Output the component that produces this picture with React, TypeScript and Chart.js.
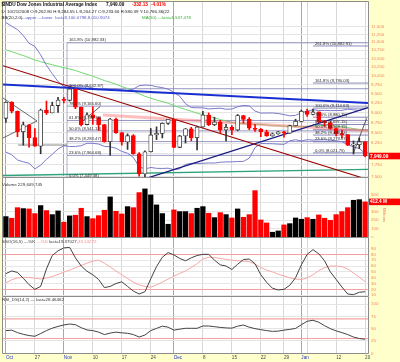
import React, { useEffect, useRef } from "react";
import { Chart, registerables } from "chart.js";

Chart.register(...registerables);

// ---------------- data ----------------
const dates = [
  "2008-10-20","2008-10-21","2008-10-22","2008-10-23","2008-10-24",
  "2008-10-27","2008-10-28","2008-10-29","2008-10-30","2008-10-31",
  "2008-11-03","2008-11-04","2008-11-05","2008-11-06","2008-11-07",
  "2008-11-10","2008-11-11","2008-11-12","2008-11-13","2008-11-14",
  "2008-11-17","2008-11-18","2008-11-19","2008-11-20","2008-11-21",
  "2008-11-24","2008-11-25","2008-11-26","2008-11-28",
  "2008-12-01","2008-12-02","2008-12-03","2008-12-04","2008-12-05",
  "2008-12-08","2008-12-09","2008-12-10","2008-12-11","2008-12-12",
  "2008-12-15","2008-12-16","2008-12-17","2008-12-18","2008-12-19",
  "2008-12-22","2008-12-23","2008-12-24","2008-12-26",
  "2008-12-29","2008-12-30","2008-12-31","2009-01-02",
  "2009-01-05","2009-01-06","2009-01-07","2009-01-08","2009-01-09",
  "2009-01-12","2009-01-13","2009-01-14","2009-01-15","2009-01-16",
  "2009-01-20",
];

const opens = [8852,9265,9034,8519,8691,8379,8176,9065,8991,9181,
  9325,9320,9625,9139,8696,8944,8871,8694,8283,8835,
  8497,8274,8425,7997,7552,8046,8443,8479,8727,8829,
  8149,8419,8592,8376,8635,8934,8691,8761,8565,8630,
  8565,8924,8824,8605,8579,8520,8419,8468,8516,8484,
  8668,8776,9035,8953,9015,8770,8742,8599,8474,8449,
  8200,8212,8279];
const highs = [9280,9285,9040,8760,8700,8600,9090,9300,9270,9400,
  9400,9654,9630,9140,8990,9150,8880,8700,8850,8860,
  8500,8470,8450,8030,8070,8600,8640,8740,8830,8830,
  8430,8600,8630,8660,9030,8990,8880,8800,8700,8670,
  8950,8930,8870,8700,8600,8560,8490,8530,8530,8680,
  8830,9065,9090,9088,9015,8800,8770,8610,8560,8450,
  8300,8370,8290];
const lows = [8750,8990,8400,8200,8150,8170,8000,8950,8990,9000,
  9250,9300,9100,8660,8690,8700,8550,8270,7965,8480,
  8200,8100,7990,7507,7449,8040,8330,8370,8700,8140,
  8140,8250,8300,8090,8630,8670,8670,8500,8300,8450,
  8540,8730,8570,8530,8400,8410,8410,8460,8390,8480,
  8660,8760,8900,8940,8740,8650,8580,8420,8370,8190,
  7995,8120,7930];
const closes = [9265,9034,8519,8691,8379,8176,9065,8991,9181,9325,
  9320,9625,9139,8696,8944,8871,8694,8283,8835,8497,
  8274,8425,7997,7552,8046,8443,8479,8727,8829,8149,
  8419,8592,8376,8635,8934,8691,8761,8565,8630,8565,
  8924,8824,8605,8579,8520,8419,8468,8516,8484,8668,
  8776,9035,8953,9015,8770,8742,8599,8474,8449,8200,
  8212,8281,7949.09];
// volume in millions
const volumes = [241,222,345,334,330,276,369,311,264,307,
  176,249,257,338,241,217,252,315,470,303,
  272,357,345,520,563,493,377,276,152,319,
  299,299,276,338,357,280,229,287,264,225,
  330,233,264,543,202,167,59,74,144,159,
  225,210,229,210,260,222,198,264,299,345,
  431,438,412.4];
const bbUpper = [11636,11515,11404,11211,10967,10872,10610,10300,10055,9831,
  9691,9728,9714,9710,9701,9651,9606,9631,9624,9627,
  9599,9581,9622,9717,9733,9726,9687,9664,9622,9535,
  9430,9229,9128,9123,9121,9094,9103,9113,9085,9090,
  9149,9185,9173,9037,8986,8987,8989,8976,8947,8915,
  8927,8999,9028,9075,9052,9055,9049,9052,9055,9087,
  9071,9056,9100.08];
const bbLower = [8040,7979,7860,7819,7787,7664,7746,7872,7987,8111,
  8187,8168,8170,8186,8245,8243,8226,8171,8164,8127,
  8055,8013,7918,7709,7661,7694,7675,7672,7678,7647,
  7662,7761,7784,7783,7785,7794,7791,7809,7817,7818,
  7825,7829,7901,8141,8238,8235,8233,8224,8219,8303,
  8327,8299,8328,8319,8324,8327,8317,8304,8283,8215,
  8159,8120,8010.91];
const ma50 = [10764,10709,10646,10590,10525,10455,10407,10360,10315,10273,
  10227,10192,10146,10090,10035,9981,9925,9860,9813,9758,
  9693,9637,9572,9494,9427,9377,9326,9288,9244,9179,
  9127,9082,9033,8985,8941,8908,8866,8821,8784,8748,
  8728,8715,8702,8702,8704,8684,8667,8666,8656,8653,
  8643,8643,8651,8658,8666,8677,8668,8657,8643,8620,
  8598,8571,8547.48];
const stochK = [47,51.5,49,39,28,20,25,55,78,86,
  91,92,74,60,51,45,37,23,25,30,
  33,25,17,12,16,38,59,75,83,79,
  73,69,74,78,80,80,70,62,60,54,
  63,71,72,64,45,32,22,19,20,27,
  40,62,80,88,81,69,50,37,24,12,
  11,15,16];
const stochD = [31,36.5,39.5,40.6,40.6,39,37.8,39.5,42,45.5,
  49.5,53,57,61,65,68.5,70,65,58.5,51.5,
  45,38.5,32.5,27.5,25,23.8,27.5,32.5,37.5,42.5,
  47.4,51.5,57.5,64,72,75,74.5,73,71.5,70,
  69,68.3,67.5,63,57.5,53,50,46,43,40,
  37.5,37,39.5,45,52,57,60,60,59,55,
  48,41,33.14];
const rsi = [46,47,42,38.5,36,34.5,40,46,51,54.5,
  57.5,59.4,58,52,47.3,46,43,38,41,43,
  41.5,40.6,38,33,37,46,50.5,55,53,47,
  49,50.7,50.7,50.7,55.4,55.4,54,52.5,51.5,51,
  55,57.4,53,50,48,46,44.5,45,47,48.5,
  50.5,58,65,67,63,56,50,45.5,42,38,
  33,30,28.46];

// axis ticks
const xTickIdx = [0,5,10,15,20,25,29,34,39,44,48,51,52,57,62];
const xTickText = ["Oct","27","Nov","10","17","24","Dec","8","15","22","29","Jan","","12","20"];
const monthIdx = [0,10,29,51];
const priceTicks = [7500,7750,8000,8250,8500,8750,9000,9250,9500,9750,10000,10250,10500,10750,11000,11250,11500];
const volTicks = [0,100,200,300,400,500];
const ssoTicks = [10,20,30,40,50,60,70,80,90];
const rsiTicks = [0,25,50,75,100];

// fibonacci retracements (level %, price)
const fibAPct = [0,23.6,38.2,50,61.8,78.6,100,161.8];
const fibALevels = [7449.38,7964.68,8283.47,8541.13,8798.78,9165.60,9632.87,10982.33];
const fibAStart = 10.55;
const fibBPct = [0,23.6,38.2,50,61.8,78.6,100,161.8,261.8];
const fibBLevels = [8021.75,8279.67,8439.23,8568.19,8697.15,8880.75,9114.63,9790.03,10882.91];
const fibBStart = 53;

// drawn trendlines: [index, price] endpoints
const blueTrend = [[-0.5,9752],[62.5,9248]];
const redTrend = [[-0.5,10285],[62.5,7432]];
const navyTrend = [[24,7449],[62.5,9128]];
const pinkTrend = [[16.76,8938],[62.5,8544]];
const greenTrend = [[-0.5,7520],[62.5,7650]];
const triUpper = [[-0.5,9382],[5.37,8786]];
const triLower = [[-0.5,8369],[5.37,8786]];
const baseLine = [[2.1,8203],[10.55,8203]];
const shortUp = [[12.8,8728],[16.24,9151]];
const rightUp = [[59.96,8010],[62.27,8853]];

// ---------------- styling ----------------
const N = closes.length;
const FONT = "'Liberation Sans', Arial, Helvetica, sans-serif";
const YELLOW = "#FFFFCC";
const AXIS = "#F2845F";
const RED = "#FF0000";

const downDay = closes.map((c, i) => (i > 0 ? c < closes[i - 1] : c < opens[i]));
const candleColor = downDay.map((d) => (d ? RED : "#333333"));

const pts = (arr: number[]) => arr.map((v, i) => ({ x: i, y: v }));
const seg = (p: number[][]) => p.map(([x, y]) => ({ x, y }));
const fmt2 = (v: number) => v.toLocaleString("en-US", { minimumFractionDigits: 2, maximumFractionDigits: 2 });

const line = (data: any, color: string, width: number, order = 4, extra: any = {}) => ({
  type: "line",
  data,
  borderColor: color,
  borderWidth: width,
  pointRadius: 0,
  tension: 0,
  fill: false,
  spanGaps: true,
  order,
  ...extra,
});

function xScale(showLabels: boolean) {
  return {
    type: "linear",
    min: -0.5,
    max: N - 0.5,
    offset: false,
    afterBuildTicks: (s: any) => {
      s.ticks = xTickIdx.map((v) => ({ value: v }));
    },
    afterFit: (s: any) => {
      s.height = showLabels ? 8.5 : 0;
      s.paddingLeft = 0;
      s.paddingRight = 0;
    },
    grid: {
      offset: false,
      drawTicks: false,
      lineWidth: 1,
      color: (c: any) => (c.tick && monthIdx.includes(c.tick.value) ? "#a8a8a8" : "#d8d8d8"),
    },
    border: { display: false },
    ticks: {
      display: showLabels,
      autoSkip: false,
      maxRotation: 0,
      minRotation: 0,
      align: "start",
      padding: 1.5,
      font: { size: 4.6, family: FONT },
      color: (c: any) => (c.tick && monthIdx.includes(c.tick.value) ? "#2233CC" : "#444444"),
      callback: (v: any) => {
        const k = xTickIdx.indexOf(Number(v));
        return k >= 0 ? xTickText[k] : "";
      },
    },
  };
}

function yScale(type: string, min: number, max: number, ticks: number[], cb: (v: number) => string, gridColor?: any) {
  return {
    type,
    position: "right",
    min,
    max,
    afterBuildTicks: (s: any) => {
      s.ticks = ticks.map((v) => ({ value: v }));
    },
    afterFit: (s: any) => {
      s.width = 32;
      s.paddingTop = 0;
      s.paddingBottom = 0;
    },
    grid: { drawTicks: false, color: gridColor || "#e4e4e4", lineWidth: 1 },
    border: { display: false },
    ticks: {
      autoSkip: false,
      padding: 3,
      color: AXIS,
      font: { size: 4.4, family: FONT },
      callback: (v: any) => cb(Number(v)),
    },
  };
}

function baseOptions(y: any, xLabels: boolean, padTop = 0) {
  return {
    animation: false,
    responsive: false,
    events: [],
    layout: { padding: { top: padTop, left: 3, right: 0, bottom: 0 } },
    plugins: { legend: { display: false }, tooltip: { enabled: false } },
    scales: { x: xScale(xLabels), y },
  };
}

function txt(ctx: any, s: string, x: number, y: number, color: string, size: number, bold = false, align = "left") {
  ctx.font = `${bold ? "bold " : ""}${size}px ${FONT}`;
  ctx.fillStyle = color;
  ctx.textAlign = align;
  ctx.textBaseline = "middle";
  ctx.fillText(s, x, y);
  return ctx.measureText(s).width;
}

function panelPlugin(drawTop: boolean, deco?: (chart: any) => void) {
  return {
    id: "panel",
    beforeDraw(chart: any) {
      const { ctx, chartArea: a, width, height } = chart;
      ctx.save();
      ctx.fillStyle = YELLOW;
      ctx.fillRect(0, 0, width, height);
      ctx.fillStyle = "#ffffff";
      ctx.fillRect(a.left, a.top, a.right - a.left, a.bottom - a.top);
      ctx.restore();
    },
    afterDraw(chart: any) {
      const { ctx, chartArea: a } = chart;
      ctx.save();
      ctx.strokeStyle = "#8c8c8c";
      ctx.lineWidth = 1;
      ctx.beginPath();
      const l = Math.round(a.left) - 0.5;
      const r = Math.round(a.right) + 0.5;
      const t = Math.round(a.top) + 0.5;
      const b = Math.round(a.bottom) - 0.5;
      ctx.moveTo(l, drawTop ? t : a.top);
      ctx.lineTo(l, b);
      ctx.lineTo(r, b);
      ctx.lineTo(r, drawTop ? t : a.top);
      if (drawTop) ctx.lineTo(l, t);
      ctx.stroke();
      ctx.restore();
      if (deco) {
        ctx.save();
        deco(chart);
        ctx.restore();
      }
    },
  };
}

function valueBox(ctx: any, label: string, y: number) {
  ctx.fillStyle = RED;
  ctx.fillRect(369, y - 3.3, 31, 6.6);
  txt(ctx, label, 370, y + 0.2, "#ffffff", 4.7, true);
}

// ---------------- chart configs ----------------
function priceConfig() {
  const fibDs: any[] = [];
  fibALevels.forEach((lv) => fibDs.push(line(seg([[fibAStart, lv], [N - 0.5, lv]]), "#7b7bb5", 0.8, 6)));
  fibBLevels.forEach((lv) => fibDs.push(line(seg([[fibBStart, lv], [N - 0.5, lv]]), "#6a6aa8", 0.8, 6)));
  fibDs.push(line(seg([[fibAStart, fibALevels[0]], [fibAStart, fibALevels[fibALevels.length - 1]]]), "#9a9ac0", 0.8, 6));

  const deco = (chart: any) => {
    const { ctx, scales } = chart;
    const x = scales.x;
    const y = scales.y;
    // fib labels
    ctx.font = `4.2px ${FONT}`;
    ctx.fillStyle = "#2a2a2a";
    ctx.textAlign = "left";
    ctx.textBaseline = "bottom";
    const xa = x.getPixelForValue(fibAStart) + 2;
    fibALevels.forEach((lv, k) => {
      ctx.fillText(`${fibAPct[k].toFixed(1)}% (${fmt2(lv)})`, xa, y.getPixelForValue(lv) - 0.4);
    });
    const xb = x.getPixelForValue(fibBStart) + 2;
    fibBLevels.forEach((lv, k) => {
      ctx.fillText(`${fibBPct[k].toFixed(1)}% (${fmt2(lv)})`, xb, y.getPixelForValue(lv) - 0.4);
    });
    // header
    txt(ctx, "$INDU Dow Jones Industrial Average Index", 1.5, 4.8, "#111111", 4.7, true);
    txt(ctx, "7,949.09", 106, 4.8, "#111111", 4.7, true);
    txt(ctx, "-332.13", 132, 4.8, RED, 4.7, true);
    txt(ctx, "-4.01%", 151, 4.8, RED, 4.7, true);
    ctx.font = `4.4px ${FONT}`;
    ctx.fillStyle = "#222222";
    ctx.textBaseline = "middle";
    ctx.fillText("D: 10/21/2008 O:9,262.80 H:9,284.55 L:9,204.27 C:9,233.66 R:580.39 Y:10,766.36(22", 1.5, 11.8, 198);
    txt(ctx, "BB(20,2.0)", 1.5, 18.2, "#222222", 4.4);
    txt(ctx, "\u2014upper \u2014lower  last=9,100.0798,8,010.9074", 21, 18.2, "#5a5ac8", 4.4);
    txt(ctx, "MA(50) \u2014last=8,547.478", 142, 18.2, "#33b033", 4.4);
    // last price box
    valueBox(ctx, "7,949.09", y.getPixelForValue(closes[N - 1]));
  };

  return {
    type: "bar",
    data: {
      datasets: [
        {
          type: "bar",
          data: opens.map((o, i) => ({ x: i, y: [o, closes[i]] })),
          backgroundColor: opens.map((o, i) => (closes[i] < o ? candleColor[i] : "#ffffff")),
          borderColor: candleColor,
          borderWidth: 0.8,
          borderSkipped: false,
          barThickness: 4,
          minBarLength: 1,
          grouped: false,
          order: 0,
        },
        {
          type: "bar",
          data: lows.map((l, i) => ({ x: i, y: [l, highs[i]] })),
          backgroundColor: candleColor,
          barThickness: 1,
          grouped: false,
          order: 1,
        },
        line(pts(bbUpper), "#7a7acc", 1, 4),
        line(pts(bbLower), "#7a7acc", 1, 4),
        line(pts(ma50), "#72d872", 1, 4),
        line(seg(blueTrend), "#1a2fd0", 2, 3),
        line(seg(redTrend), "#990000", 1.1, 3),
        line(seg(navyTrend), "#1a1a80", 1.3, 3),
        line(seg(pinkTrend), "rgba(255,110,110,0.45)", 3, 3),
        line(seg(greenTrend), "#2fa37a", 1.3, 3),
        line(seg(triUpper), "#444444", 0.8, 3),
        line(seg(triLower), "#444444", 0.8, 3),
        line(seg(baseLine), "#666666", 0.8, 3),
        line(seg(shortUp), "#333333", 0.8, 3),
        line(seg(rightUp), "#333333", 0.8, 3),
        ...fibDs,
      ],
    },
    options: baseOptions(
      yScale("logarithmic", 7466, 12374, priceTicks, (v) => (v === 8000 ? "" : v.toLocaleString("en-US"))),
      false,
      1
    ),
    plugins: [panelPlugin(true, deco)],
  };
}

function volumeConfig() {
  const deco = (chart: any) => {
    const { ctx, scales } = chart;
    txt(ctx, "Volume 229,609,745", 2, 7, "#333333", 4.4);
    valueBox(ctx, "412.4 M", scales.y.getPixelForValue(volumes[N - 1]));
    ctx.save();
    ctx.translate(384, 37);
    ctx.rotate(Math.PI / 2);
    txt(ctx, "Millions", 0, 0, AXIS, 4.4, false, "center");
    ctx.restore();
  };
  return {
    type: "bar",
    data: {
      datasets: [
        {
          data: volumes.map((v, i) => ({ x: i, y: v })),
          backgroundColor: downDay.map((d) => (d ? RED : "#000000")),
          barThickness: 4.6,
          grouped: false,
        },
      ],
    },
    options: baseOptions(
      yScale("linear", -8, 690, volTicks, (v) => (v === 400 ? "" : String(v))),
      false
    ),
    plugins: [panelPlugin(false, deco)],
  };
}

function ssoConfig() {
  const deco = (chart: any) => {
    const { ctx } = chart;
    let x = 2;
    x += txt(ctx, "SSO(16,5) ", x, 3.8, "#333333", 4.4);
    x += txt(ctx, "\u2014%K ", x, 3.8, "#333333", 4.4);
    x += txt(ctx, "\u2014%D ", x, 3.8, "#F28A8A", 4.4);
    x += txt(ctx, "last=19.37027,", x, 3.8, "#333333", 4.4);
    txt(ctx, "33.14272", x, 3.8, "#F28A8A", 4.4);
  };
  return {
    type: "line",
    data: {
      datasets: [
        line(pts(stochK), "#444444", 1, 1),
        line(pts(stochD), "#F7A8A8", 1, 2),
      ],
    },
    options: baseOptions(
      yScale("linear", 6.9, 108, ssoTicks, (v) => String(v), (c: any) =>
        c.tick && (c.tick.value === 20 || c.tick.value === 80) ? "#F4A0A0" : "#e6e6e6"
      ),
      false
    ),
    plugins: [panelPlugin(false, deco)],
  };
}

function rsiConfig() {
  const deco = (chart: any) => {
    txt(chart.ctx, "RSI_DS(14,2) \u2014 last=28.46462", 2, 3.2, "#333333", 4.4);
  };
  return {
    type: "line",
    data: {
      datasets: [
        line(pts(rsi), "#444444", 1, 1),
        line(seg([[-0.5, 70], [N - 0.5, 70]]), "#F4A0A0", 1.2, 3),
        line(seg([[-0.5, 30], [N - 0.5, 30]]), "#F4A0A0", 1.2, 3),
      ],
    },
    options: baseOptions(yScale("linear", -0.4, 114.2, rsiTicks, (v) => String(v)), true),
    plugins: [panelPlugin(false, deco)],
  };
}

export default function App() {
  const priceRef = useRef<HTMLCanvasElement>(null);
  const volRef = useRef<HTMLCanvasElement>(null);
  const ssoRef = useRef<HTMLCanvasElement>(null);
  const rsiRef = useRef<HTMLCanvasElement>(null);

  useEffect(() => {
    const charts = [
      new Chart(priceRef.current as any, priceConfig() as any),
      new Chart(volRef.current as any, volumeConfig() as any),
      new Chart(ssoRef.current as any, ssoConfig() as any),
      new Chart(rsiRef.current as any, rsiConfig() as any),
    ];
    return () => charts.forEach((c) => c.destroy());
  }, []);

  const cv = (top: number) => ({ position: "absolute" as const, left: 0, top });
  return (
    <div
      style={{
        position: "absolute",
        left: 0,
        top: 0,
        width: 400,
        height: 362,
        background: YELLOW,
        overflow: "hidden",
      }}
      data-dates={dates.length}
    >
      <canvas ref={priceRef} width={400} height={178} style={cv(0)} />
      <canvas ref={volRef} width={400} height={60} style={cv(178)} />
      <canvas ref={ssoRef} width={400} height={59} style={cv(238)} />
      <canvas ref={rsiRef} width={400} height={65} style={cv(297)} />
    </div>
  );
}
